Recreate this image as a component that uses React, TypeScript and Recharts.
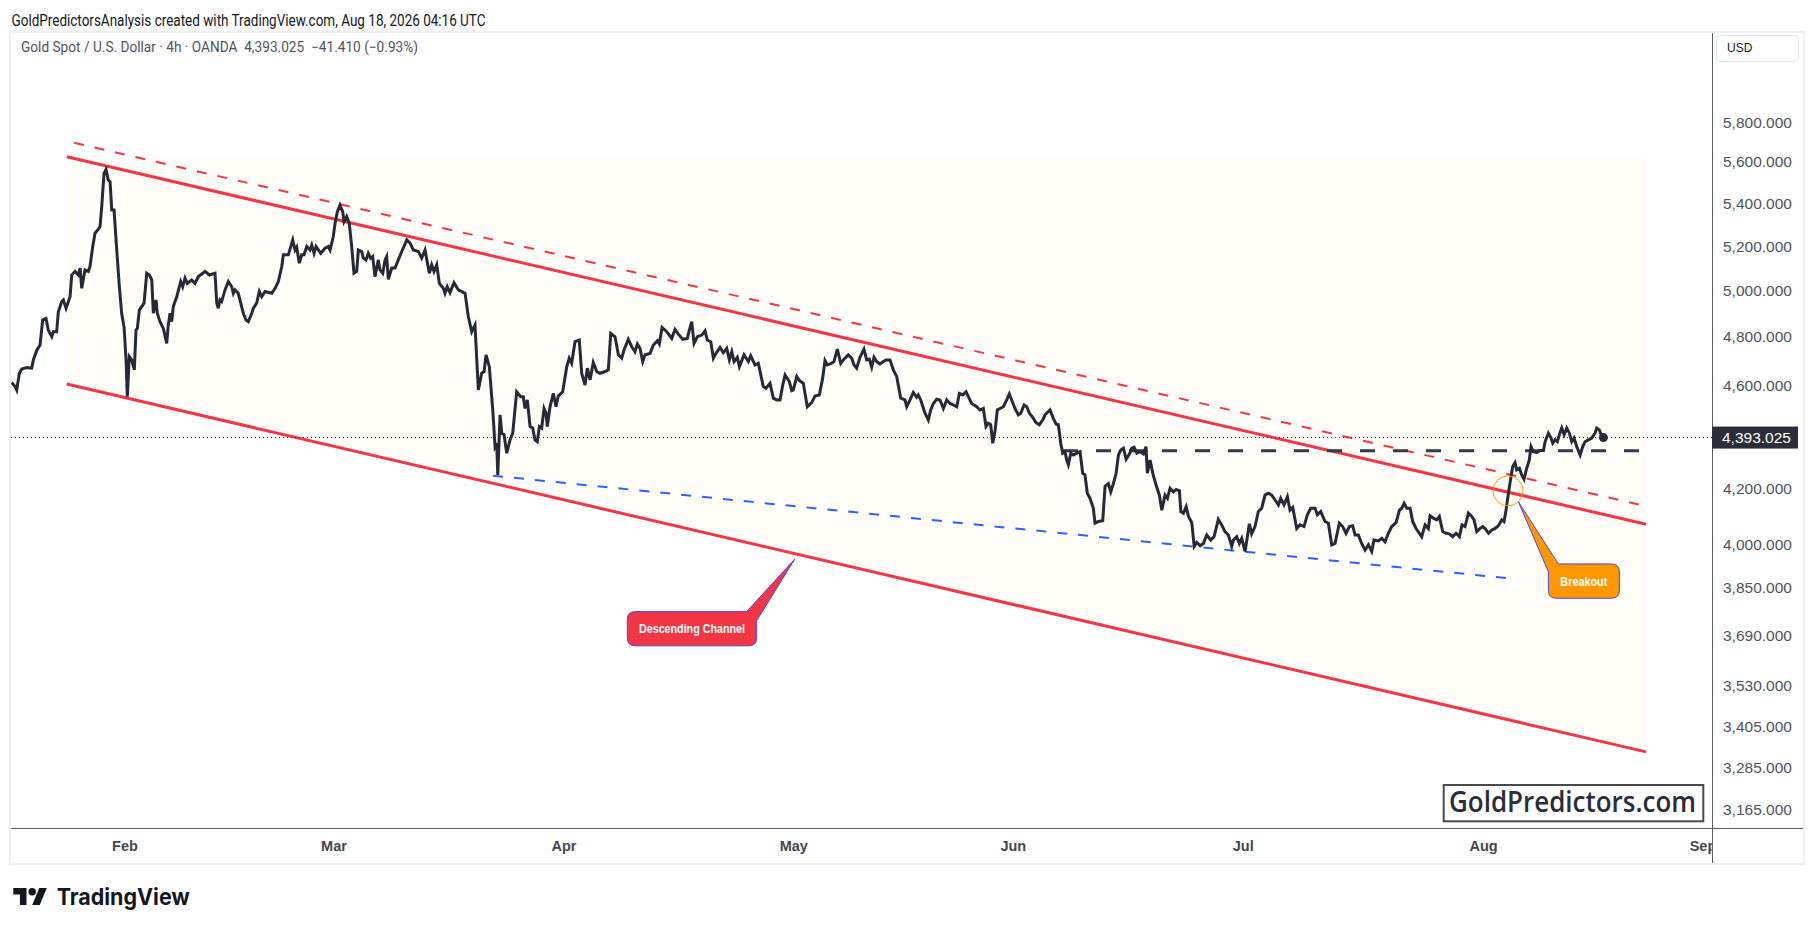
import {
  LineChart,
  Line,
  XAxis,
  YAxis,
  ReferenceLine,
  ReferenceArea,
  ReferenceDot,
} from 'recharts'

// x = trading-session index (weekdays counted from Jan 1 2026), y = XAUUSD 4h close
const sessions = [
  11.16, 11.48, 11.64, 11.89, 12.12, 12.59, 13.07, 13.23, 13.55, 13.87, 14.12, 14.44, 14.66, 14.99, 15.14, 15.46,
  15.62, 15.94, 16.1, 16.36, 16.74, 16.9, 17.22, 17.53, 17.7, 17.86, 18.17, 18.49, 18.65, 18.91, 19.13, 19.45,
  19.61, 19.77, 19.99, 20.18, 20.4, 20.57, 20.73, 20.95, 21.21, 21.46, 21.68, 21.91, 22.1, 22.22, 22.41, 22.64,
  22.89, 23.05, 23.18, 23.37, 23.82, 24.08, 24.33, 24.56, 24.71, 24.97, 25.09, 25.35, 25.67, 25.99, 26.14, 26.31,
  26.47, 26.62, 26.95, 27.33, 27.52, 27.74, 27.96, 28.38, 28.7, 29.02, 29.66, 30.07, 30.61, 30.78, 30.93, 31.09,
  31.25, 31.57, 31.89, 32.21, 32.37, 32.53, 32.84, 33.32, 33.58, 33.8, 34.13, 34.28, 34.6, 34.85, 35.08, 35.4,
  36.04, 36.36, 36.67, 37.0, 37.15, 37.63, 38.05, 38.27, 38.43, 38.68, 38.91, 39.13, 39.39, 39.7, 39.87, 40.09,
  40.28, 40.73, 41.14, 41.46, 41.62, 41.93, 42.1, 42.32, 42.57, 42.83, 42.96, 43.21, 43.46, 43.69, 43.91, 44.17,
  44.33, 44.65, 44.8, 45.06, 45.28, 45.51, 45.7, 45.92, 46.24, 46.4, 46.66, 46.88, 47.04, 47.2, 47.52, 47.84,
  48.15, 48.48, 48.96,
  49.28, 49.59, 50.07, 50.39, 50.71, 51.12, 51.35, 51.57, 51.83, 52.08, 52.46, 52.62, 52.84, 53.1, 53.48, 53.9,
  54.54, 54.85, 55.18, 55.49, 55.81, 56.13, 56.36, 56.55, 56.86, 57.19, 57.41, 57.57, 57.67, 57.89, 58.05, 58.27,
  58.53, 58.84, 59.1, 59.48, 59.86, 60.11, 60.28, 60.5, 60.76, 61.01, 61.23, 61.45, 61.65, 61.87, 62.1, 62.29,
  62.41, 62.67, 62.99, 63.24, 63.46, 63.88, 64.27, 64.51, 64.74, 65.06, 65.47, 65.7, 66.02, 66.24, 66.5, 66.81,
  67.14, 67.45, 67.93, 68.25, 68.48, 68.89, 69.21, 69.53, 69.75, 70.16, 70.49, 70.8, 71.03, 71.28, 71.54, 71.76,
  72.24, 72.56, 72.94, 73.13, 73.39, 73.84, 74.32, 74.63, 74.95, 75.37, 75.81, 76.0, 76.23, 76.45, 76.77, 77.19,
  77.5, 77.72, 78.05, 78.3, 78.55, 78.94, 79.25, 79.58, 79.83, 80.06, 80.28, 80.59, 80.79, 81.23, 81.65, 81.87,
  82.29, 82.6, 83.08, 83.34, 83.72, 84.04, 84.36, 84.68, 84.94, 85.16, 85.57, 85.8, 85.95, 86.28, 86.53, 86.91,
  87.07, 87.29, 87.71, 88.03,
  88.44, 88.76, 88.98, 89.2, 89.62, 89.84, 90.16, 90.49, 90.8, 91.21, 91.54, 91.76, 92.01, 92.33, 92.71, 92.97,
  93.22, 93.45, 93.67, 93.93, 94.25, 94.57, 94.82, 95.2, 95.52, 95.84, 96.23, 96.64, 96.8, 97.12, 97.43, 97.75,
  97.91, 98.14, 98.55, 98.87, 99.1, 99.35, 99.67, 99.99, 100.31, 100.63, 100.95, 101.26, 101.59, 101.84, 102.16, 102.48,
  102.7, 103.02, 103.5, 103.82, 104.13, 104.39, 104.61, 104.84, 105.03, 105.25, 105.47, 105.73, 106.05, 106.37, 106.62, 106.85,
  107.16, 107.48, 107.71, 108.03, 108.29, 108.54, 108.86, 109.18, 109.49, 109.82, 110.04, 110.26, 110.51, 110.83, 111.09, 111.31,
  111.54, 111.73, 111.95, 112.11, 112.27, 112.5, 112.75, 113.07, 113.39, 113.64, 113.86, 114.08, 114.34, 114.66, 114.82, 115.14,
  115.56, 115.78, 116.1, 116.33, 116.58, 116.84, 117.06, 117.29, 117.54, 117.8, 118.11, 118.34, 118.56, 118.82, 119.13, 119.45,
  119.7, 119.83, 120.09, 120.35, 120.66, 120.98, 121.21, 121.52, 121.75, 122.0, 122.32, 122.58, 122.9, 123.03, 123.28, 123.54,
  123.76, 124.08, 124.31, 124.56, 124.88,
  125.19, 125.51, 125.89, 126.21, 126.62, 126.94, 127.26, 127.58, 127.9, 128.06, 128.38, 128.63, 128.86, 129.18, 129.59, 129.81,
  130.13, 130.45, 130.77, 131.09, 131.41, 131.73, 132.05, 132.37, 132.59, 132.91, 133.23, 133.48, 133.74, 134.12, 134.44, 134.82,
  135.14, 135.46, 135.88, 136.1, 136.42, 136.83, 137.15, 137.47, 137.79, 138.2, 138.52, 138.84, 139.16, 139.48, 139.7, 140.02,
  140.34, 140.66, 140.98, 141.3, 141.52, 141.94, 142.26, 142.57, 142.89, 143.21, 143.63, 143.95, 144.17, 144.4, 144.65, 144.97,
  145.22, 145.54, 145.86, 146.08, 146.4, 146.72, 146.88, 147.2, 147.52, 147.77, 148.09, 148.41, 148.73, 149.05, 149.37, 149.69,
  149.94, 150.23, 150.55, 150.87, 151.09, 151.35, 151.67, 151.92, 152.15, 152.47, 152.79, 153.1, 153.42, 153.74, 153.96, 154.15,
  154.38, 154.6, 154.79, 155.01, 155.17, 155.43, 155.65, 155.87, 156.13, 156.38, 156.54, 156.76, 157.08, 157.4, 157.73, 157.89,
  158.2, 158.43, 158.62, 158.84, 159.06, 159.25, 159.48, 159.71, 159.96, 160.21, 160.44, 160.66, 160.92, 161.24, 161.49, 161.71,
  162.03, 162.35, 162.67, 162.83, 163.08, 163.31, 163.47,
]

const closes = [
  4611, 4595, 4581, 4649, 4666, 4672, 4670, 4704, 4743, 4766, 4872, 4879, 4829, 4801, 4822, 4822,
  4908, 4952, 4959, 4923, 4973, 5069, 5085, 5069, 5100, 5010, 5092, 5085, 5107, 5198, 5259, 5278,
  5290, 5383, 5544, 5563, 5511, 5503, 5368, 5368, 5182, 5017, 4901, 4842, 4704, 4554, 4718, 4704,
  4663, 4829, 4836, 4915, 4945, 5077, 5069, 5047, 4901, 4959, 4901, 4865, 4836, 4773, 4850, 4901,
  4865, 4930, 4973, 5040, 5017, 5055, 5032, 5047, 5032, 5062, 5085, 5069, 5077, 4945, 4923, 4959,
  4952, 5003, 5040, 5017, 4988, 5003, 4988, 4901, 4872, 4865, 4901, 4923, 4945, 4996, 4973, 4996,
  4988, 5010, 5040, 5107, 5160, 5160, 5228, 5182, 5195, 5122, 5160, 5160, 5198, 5182, 5205, 5167,
  5198, 5167, 5190, 5198, 5182, 5244, 5305, 5360, 5391, 5360, 5313, 5337, 5305, 5198, 5077, 5085,
  5182, 5175, 5145, 5137, 5167, 5145, 5152, 5062, 5137, 5092, 5077, 5137, 5152, 5050, 5100, 5100,
  5137, 5175, 5228,
  5213, 5182, 5175, 5145, 5182, 5077, 5115, 5085, 5115, 5032, 5010, 4988, 5017, 4991, 5035, 5003,
  4988, 4887, 4822, 4850, 4581, 4649, 4656, 4725, 4676, 4501, 4358, 4371, 4251, 4482, 4410, 4404,
  4333, 4384, 4410, 4574, 4554, 4554, 4507, 4541, 4436, 4430, 4384, 4377, 4436, 4430, 4507, 4488,
  4436, 4514, 4567, 4514, 4557, 4574, 4676, 4711, 4690, 4780, 4787, 4649, 4601, 4670, 4622, 4693,
  4656, 4649, 4656, 4663, 4815, 4801, 4725, 4711, 4745, 4790, 4759, 4738, 4770, 4752, 4697, 4725,
  4731, 4766, 4784, 4770, 4840, 4822, 4794, 4832, 4812, 4790, 4794, 4829, 4865, 4773, 4801, 4808,
  4826, 4787, 4780, 4711, 4731, 4756, 4734, 4752, 4704, 4738, 4697, 4715, 4676, 4725, 4697, 4721,
  4683, 4690, 4595, 4588, 4608, 4548, 4541, 4541, 4601, 4642, 4615, 4578, 4581, 4636, 4619, 4608,
  4567, 4514, 4530, 4557,
  4561, 4629, 4701, 4683, 4690, 4697, 4749, 4690, 4707, 4725, 4711, 4683, 4670, 4715, 4749, 4704,
  4707, 4674, 4715, 4697, 4687, 4697, 4704, 4704, 4663, 4636, 4548, 4541, 4514, 4541, 4571, 4552,
  4561, 4541, 4488, 4462, 4501, 4527, 4544, 4541, 4507, 4541, 4527, 4521, 4514, 4567, 4561, 4574,
  4554, 4527, 4514, 4501, 4507, 4436, 4449, 4443, 4371, 4417, 4501, 4507, 4514, 4541, 4565, 4541,
  4507, 4482, 4488, 4521, 4514, 4488, 4472, 4451, 4443, 4462, 4482, 4491, 4501, 4468, 4446, 4443,
  4371, 4333, 4339, 4307, 4289, 4333, 4326, 4333, 4339, 4257, 4251, 4183, 4164, 4128, 4074, 4080,
  4083, 4209, 4219, 4188, 4219, 4257, 4326, 4345, 4352, 4310, 4330, 4352, 4356, 4333, 4339, 4330,
  4358, 4257, 4307, 4257, 4213, 4176, 4121, 4176, 4164, 4201, 4188, 4197, 4192, 4116, 4110, 4134,
  4098, 4076, 3992, 4006, 3994,
  4002, 4032, 4014, 4026, 4088, 4068, 4044, 4032, 3992, 4014, 4026, 4002, 4020, 3974, 4072, 4036,
  4062, 4116, 4128, 4176, 4183, 4176, 4158, 4140, 4164, 4140, 4170, 4121, 4131, 4055, 4068, 4062,
  4104, 4128, 4128, 4104, 4116, 4080, 4074, 3997, 4002, 4074, 4062, 4038, 4062, 4065, 4032, 4032,
  4002, 3979, 3997, 3974, 4014, 4011, 4020, 4008, 4038, 4062, 4076, 4121, 4128, 4146, 4128, 4128,
  4080, 4055, 4038, 4026, 4068, 4055, 4101, 4092, 4086, 4098, 4044, 4038, 4036, 4026, 4038, 4026,
  4068, 4062, 4110, 4098, 4086, 4044, 4055, 4062, 4055, 4038, 4050, 4055, 4065, 4086, 4080, 4121,
  4183, 4238, 4282, 4297, 4270, 4276, 4251, 4235, 4276, 4307, 4358, 4339, 4335, 4343, 4343, 4377,
  4410, 4394, 4371, 4384, 4377, 4404, 4430, 4404, 4430, 4410, 4377, 4391, 4358, 4326, 4358, 4377,
  4384, 4391, 4410, 4430, 4423, 4397, 4393.025,
]

const monthTicks = [22, 42, 64, 86, 107, 129, 152, 173]
const monthLabels = ['Feb', 'Mar', 'Apr', 'May', 'Jun', 'Jul', 'Aug', 'Sep']
const priceTicks = [3165, 3285, 3405, 3530, 3690, 3850, 4000, 4200, 4600, 4800, 5000, 5200, 5400, 5600, 5800]

// drawings: [session, price]
const channelUpper = [[16.42, 5625], [167.55, 4070]]
const channelUpperDashed = [[17.12, 5695], [167.74, 4134]]
const channelLower = [[16.42, 4605], [167.55, 3331]]
const supportDashed = [[57.22, 4248], [154.34, 3881]]
const resistance = { from: 111.76, to: 166.88, price: 4342 }
const channelBox = { x1: 16.42, x2: 167.55, y1: 3331, y2: 5625 }
const channelNote = { t: 86.11, price: 3948, text: 'Descending Channel' }
const breakoutNote = { t: 155.33, price: 4152, text: 'Breakout' }
const breakoutRing = { t: 154.34, price: 4191.5 }
const lastPrice = 4393.025

const data = sessions.map((t, i) => ({ t, price: closes[i] }))

const CHART_W = 1792
const CHART_H = 830
const PLOT_W = 1701
const PLOT_H = 795
const RED = '#f23645'

const fmtPrice = (v: number) =>
  v.toLocaleString('en-US', { minimumFractionDigits: 3, maximumFractionDigits: 3 })

const seg = (pts: number[][]) => pts.map(([x, y]) => ({ x, y }))

// the shaded box stops at the lower channel line: its left-bottom corner sits where that line starts
const lowerStartFrac =
  Math.log(channelBox.y2 / channelLower[0][1]) / Math.log(channelBox.y2 / channelBox.y1)

const ChannelFill = ({ x, y, width, height }: any) => (
  <path
    d={`M ${x} ${y} L ${x + width} ${y} L ${x + width} ${y + height} L ${x} ${y + height * lowerStartFrac} Z`}
    fill="#fffdf8"
    stroke="none"
  />
)

const XTick = ({ x, payload, index }: any) => {
  const label = monthLabels[monthTicks.indexOf(payload.value)]
  return (
    <g>
      <defs>
        <clipPath id={`xclip${index}`}>
          <rect x={0} y={PLOT_H} width={PLOT_W} height={35} />
        </clipPath>
      </defs>
      <text
        x={x}
        y={PLOT_H + 18}
        textAnchor="middle"
        dominantBaseline="central"
        fontSize={14.5}
        fontWeight={700}
        fontFamily="'Liberation Sans', Arial, sans-serif"
        fill="#44474f"
        clipPath={`url(#xclip${index})`}
      >
        {label}
      </text>
    </g>
  )
}

const YTick = ({ y, payload }: any) => (
  <text
    x={PLOT_W + 11}
    y={y}
    dominantBaseline="central"
    fontSize={15.5}
    fontFamily="'Liberation Sans', Arial, sans-serif"
    fill="#50535c"
  >
    {fmtPrice(payload.value)}
  </text>
)

const PriceTag = (props: any) => {
  const vb = props.viewBox
  const x = vb.x + vb.width
  return (
    <g>
      <rect x={x} y={vb.y - 11} width={86} height={22} fill="#2a2e39" />
      <text
        x={x + 10}
        y={vb.y}
        dominantBaseline="central"
        fontSize={15.5}
        fontFamily="'Liberation Sans', Arial, sans-serif"
        fill="#ffffff"
      >
        {fmtPrice(lastPrice)}
      </text>
    </g>
  )
}

// callout bubble hanging below-left of its tip
const ChannelBubble = ({ cx, cy }: any) => {
  const L = cx - 167.7, R = cx - 38.3, T = cy + 52.7, B = cy + 87, r = 8
  const d = `M ${L + r} ${T} L ${cx - 48.3} ${T} L ${cx} ${cy} L ${R} ${T + 9} L ${R} ${B - r}
    Q ${R} ${B} ${R - r} ${B} L ${L + r} ${B} Q ${L} ${B} ${L} ${B - r} L ${L} ${T + r} Q ${L} ${T} ${L + r} ${T} Z`
  return (
    <g>
      <path d={d} fill={RED} stroke="#4b46e8" strokeWidth={1} />
      <text
        x={(L + R) / 2}
        y={(T + B) / 2 + 0.5}
        textAnchor="middle"
        dominantBaseline="central"
        fontSize={12}
        fontWeight={700}
        fontFamily="'Liberation Sans', Arial, sans-serif"
        fill="#ffffff"
        textLength={106}
        lengthAdjust="spacingAndGlyphs"
      >
        {channelNote.text}
      </text>
    </g>
  )
}

// callout bubble hanging below-right of its tip
const BreakoutBubble = ({ cx, cy }: any) => {
  const L = cx + 30, R = cx + 101, T = cy + 62.3, B = cy + 96.6, r = 8
  const d = `M ${cx} ${cy} L ${cx + 40} ${T} L ${R - r} ${T} Q ${R} ${T} ${R} ${T + r} L ${R} ${B - r}
    Q ${R} ${B} ${R - r} ${B} L ${L + r} ${B} Q ${L} ${B} ${L} ${B - r} L ${L} ${cy + 70} Z`
  return (
    <g>
      <path d={d} fill="#ff9800" stroke="#4b46e8" strokeWidth={1} />
      <text
        x={(L + R) / 2}
        y={(T + B) / 2 + 0.5}
        textAnchor="middle"
        dominantBaseline="central"
        fontSize={12}
        fontWeight={700}
        fontFamily="'Liberation Sans', Arial, sans-serif"
        fill="#ffffff"
        textLength={47}
        lengthAdjust="spacingAndGlyphs"
      >
        {breakoutNote.text}
      </text>
    </g>
  )
}

export default function App() {
  return (
    <div
      style={{
        position: 'absolute',
        left: 0,
        top: 0,
        width: 1814,
        height: 932,
        background: '#ffffff',
        overflow: 'hidden',
        fontFamily: "'Liberation Sans', Arial, sans-serif",
      }}
    >
      {/* chart frame and axis dividers */}
      <div
        style={{
          position: 'absolute',
          left: 9,
          top: 31,
          width: 1796,
          height: 834,
          boxSizing: 'border-box',
          border: '2px solid #eef0f3',
        }}
      />
      <div style={{ position: 'absolute', left: 1712, top: 33, width: 1, height: 830, background: '#5a5d66' }} />
      <div style={{ position: 'absolute', left: 11, top: 828, width: 1792, height: 1, background: '#5a5d66' }} />

      <div style={{ position: 'absolute', left: 11, top: 33 }}>
        <LineChart width={CHART_W} height={CHART_H} data={data} margin={{ top: 0, right: 0, bottom: 0, left: 0 }}>
          <XAxis
            type="number"
            dataKey="t"
            domain={[11.09, 173.86]}
            allowDataOverflow
            ticks={monthTicks}
            interval={0}
            height={35}
            axisLine={false}
            tickLine={false}
            tick={<XTick />}
          />
          <YAxis
            orientation="right"
            scale="log"
            type="number"
            domain={[3115, 6273]}
            allowDataOverflow
            ticks={priceTicks}
            interval={0}
            width={91}
            axisLine={false}
            tickLine={false}
            tick={<YTick />}
          />
          <ReferenceArea
            x1={channelBox.x1}
            x2={channelBox.x2}
            y1={channelBox.y1}
            y2={channelBox.y2}
            shape={ChannelFill}
          />
          <ReferenceLine segment={seg(supportDashed)} stroke="#2962ff" strokeWidth={2} strokeDasharray="10 11" />
          <ReferenceLine segment={seg(channelUpperDashed)} stroke={RED} strokeWidth={2} strokeDasharray="10 11" />
          <ReferenceLine segment={seg(channelUpper)} stroke={RED} strokeWidth={3} />
          <ReferenceLine segment={seg(channelLower)} stroke={RED} strokeWidth={3} />
          <ReferenceLine
            segment={[
              { x: resistance.from, y: resistance.price },
              { x: resistance.to, y: resistance.price },
            ]}
            stroke="#363a45"
            strokeWidth={3}
            strokeDasharray="15 18"
          />
          <Line
            type="linear"
            dataKey="price"
            stroke="#262a35"
            strokeWidth={3}
            dot={false}
            activeDot={false}
            isAnimationActive={false}
          />
          <ReferenceLine y={lastPrice} stroke="#2a2e39" strokeWidth={1} strokeDasharray="1 3" label={PriceTag} />
          <ReferenceDot
            x={breakoutRing.t}
            y={breakoutRing.price}
            r={15}
            fill="none"
            stroke="#ff9800"
            strokeWidth={1}
          />
          <ReferenceDot
            x={sessions[sessions.length - 1]}
            y={closes[closes.length - 1]}
            r={4.5}
            fill="#262a35"
            stroke="none"
          />
          <ReferenceDot x={channelNote.t} y={channelNote.price} r={1} shape={ChannelBubble} />
          <ReferenceDot x={breakoutNote.t} y={breakoutNote.price} r={1} shape={BreakoutBubble} />
        </LineChart>
      </div>

      {/* currency button on the price scale */}
      <div
        style={{
          position: 'absolute',
          left: 1716,
          top: 35,
          width: 83,
          height: 27,
          boxSizing: 'border-box',
          border: '1px solid #e0e3eb',
          borderRadius: 5,
          background: '#ffffff',
          fontSize: 12,
          lineHeight: '25px',
          paddingLeft: 10,
          color: '#131722',
        }}
      >
        USD
      </div>

      <svg
        width={1814}
        height={932}
        style={{ position: 'absolute', left: 0, top: 0, pointerEvents: 'none' }}
      >
        <text
          x={11.5}
          y={26}
          fontSize={16}
          fontFamily="Roboto, sans-serif"
          fill="#131722"
          textLength={474}
          lengthAdjust="spacingAndGlyphs"
        >
          GoldPredictorsAnalysis created with TradingView.com, Aug 18, 2026 04:16 UTC
        </text>
        <text
          x={21}
          y={51.5}
          fontSize={14}
          fontFamily="Roboto, sans-serif"
          fill="#50535e"
          textLength={397}
          lengthAdjust="spacingAndGlyphs"
          style={{ whiteSpace: 'pre' }}
        >
          {'Gold Spot / U.S. Dollar · 4h · OANDA  4,393.025  −41.410 (−0.93%)'}
        </text>

        <rect x={1443.7} y={785} width={259.6} height={36.3} fill="#ffffff" stroke="#4a4a4a" strokeWidth={2} />
        <text
          x={1449}
          y={812.3}
          fontSize={28}
          fontWeight={600}
          fontFamily="'Open Sans', sans-serif"
          fill="#2a2e39"
          textLength={247}
          lengthAdjust="spacingAndGlyphs"
        >
          GoldPredictors.com
        </text>

        <g transform="translate(13.3 888) scale(0.944) translate(0 -4)" fill="#131722">
          <path d="M14 22H7V11H0V4h14v18zM28 22h-8l7.5-18h8L28 22z" />
          <circle cx={20} cy={8} r={4} />
        </g>
        <text
          x={56.7}
          y={905}
          fontSize={23}
          fontWeight={700}
          fontFamily="Inter, sans-serif"
          fill="#131722"
          textLength={133}
          lengthAdjust="spacingAndGlyphs"
        >
          TradingView
        </text>
      </svg>
    </div>
  )
}
